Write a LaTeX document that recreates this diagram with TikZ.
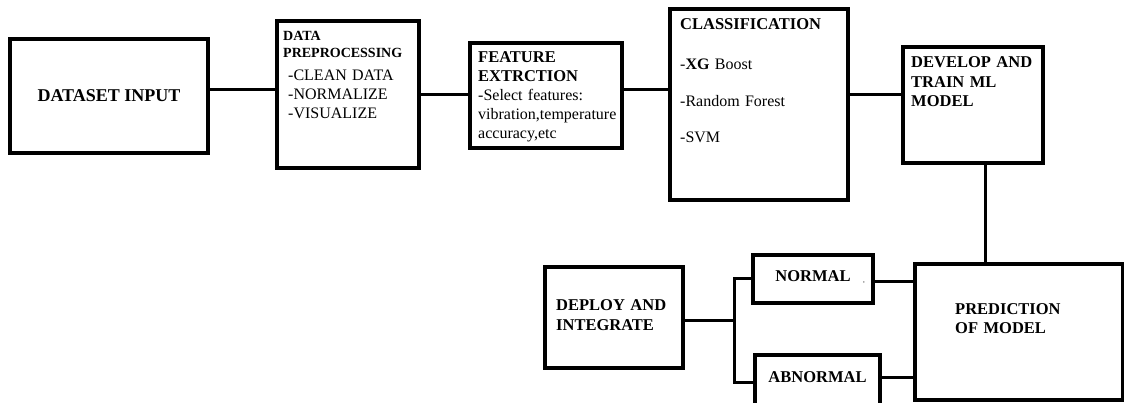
\documentclass[tikz,border=0pt]{standalone}
\usepackage{fontspec}
\setmainfont{Liberation Serif}
\usetikzlibrary{positioning}
\tikzset{
  box/.style={draw, line width=4pt, inner sep=0pt},
  link/.style={line width=3pt},
  head/.style={font=\fontsize{16.5}{19}\selectfont\bfseries, anchor=base west, inner sep=0pt, text width=200pt, align=left},
  body/.style={font=\fontsize{16}{19}\selectfont, anchor=base west, inner sep=0pt, text width=200pt, align=left},
}
\begin{document}
\begin{tikzpicture}[x=1pt, y=-1pt]
\useasboundingbox (0,0) rectangle (1124,403);
% upper row
\node [box, minimum width=198pt, minimum height=114pt, font=\fontsize{18}{20}\selectfont\bfseries] (dataset) at (109,96) {DATASET INPUT};
\node [box, minimum width=142pt, minimum height=147pt] (prep) at (348,94.5) {};
\node [box, minimum width=152pt, minimum height=105pt] (feature) at (546,95.5) {};
\node [box, minimum width=178pt, minimum height=191pt] (class) at (759,104.5) {};
\node [box, minimum width=140pt, minimum height=116pt] (develop) at (973,105) {};
% lower row
\node [box, minimum width=208pt, minimum height=136pt] (pred) at (1019,332) {};
\node [box, minimum width=138pt, minimum height=101pt] (deploy) at (614,317.5) {};
\node [box, minimum width=120pt, minimum height=48pt] (normal) at (813,279) {};
\node [box, minimum width=125pt, minimum height=55pt] (abnormal) at (817.5,382.5) {};
% texts
\node [head, font=\fontsize{14}{17}\selectfont\bfseries] (prephead) at ([shift={(8,22)}]prep.north west) {DATA\\PREPROCESSING};
\node [body] (prepbody) at ([shift={(13,62)}]prep.north west) {-CLEAN DATA\\-NORMALIZE\\-VISUALIZE};
\node [head] (feathead) at ([shift={(10,22)}]feature.north west) {FEATURE\\EXTRCTION};
\node [body] (featbody) at ([shift={(10,60)}]feature.north west) {-Select features:\\vibration,temperature\\accuracy,etc};
\node [head] (classhead) at ([shift={(12,23)}]class.north west) {CLASSIFICATION};
\node [body, font=\fontsize{16}{36.5}\selectfont] (classbody) at ([shift={(12,63)}]class.north west) {-\textbf{XG} Boost\\-Random Forest\\-SVM};
\node [head, font=\fontsize{16.5}{19.5}\selectfont\bfseries] (devtext) at ([shift={(10,23)}]develop.north west) {DEVELOP AND\\TRAIN ML\\MODEL};
\node [head] (predtext) at ([shift={(42,52)}]pred.north west) {PREDICTION\\OF MODEL};
\node [head, font=\fontsize{16.5}{20}\selectfont\bfseries] (deptext) at ([shift={(13,45)}]deploy.north west) {DEPLOY AND\\INTEGRATE};
\node [head, text width=, anchor=base] (normtext) at ([yshift=-3pt]normal.center) {NORMAL};
\node [anchor=base, inner sep=0pt, font=\fontsize{7}{7}\selectfont] (normcomma) at ([shift={(51,4)}]normal.center) {,};
\node [head, text width=, anchor=base] (abntext) at ([yshift=0.5pt]abnormal.center) {ABNORMAL};
% connectors
\draw [link] ([yshift=6pt]dataset.east) -- ([yshift=6pt]dataset.east -| prep.west);
\draw [link] (prep.east) -- (prep.east -| feature.west);
\draw [link] ([yshift=5.5pt]feature.east) -- ([yshift=5.5pt]feature.east -| class.west);
\draw [link] ([yshift=9.5pt]class.east) -- ([yshift=9.5pt]class.east -| develop.west);
\draw [link] ([xshift=12pt]develop.south) -- ([xshift=12pt]develop.south |- pred.north);
\draw [link] ([yshift=-2.5pt]deploy.east) -- ++(49,0) coordinate (fork);
\draw [link] (normal.west) -| (fork) |- (abnormal.west);
\draw [link] ([yshift=-3pt]normal.east) -- ([yshift=-3pt]normal.east -| pred.west);
\draw [link] ([yshift=5.5pt]abnormal.east) -- ([yshift=5.5pt]abnormal.east -| pred.west);
\end{tikzpicture}
\end{document}
